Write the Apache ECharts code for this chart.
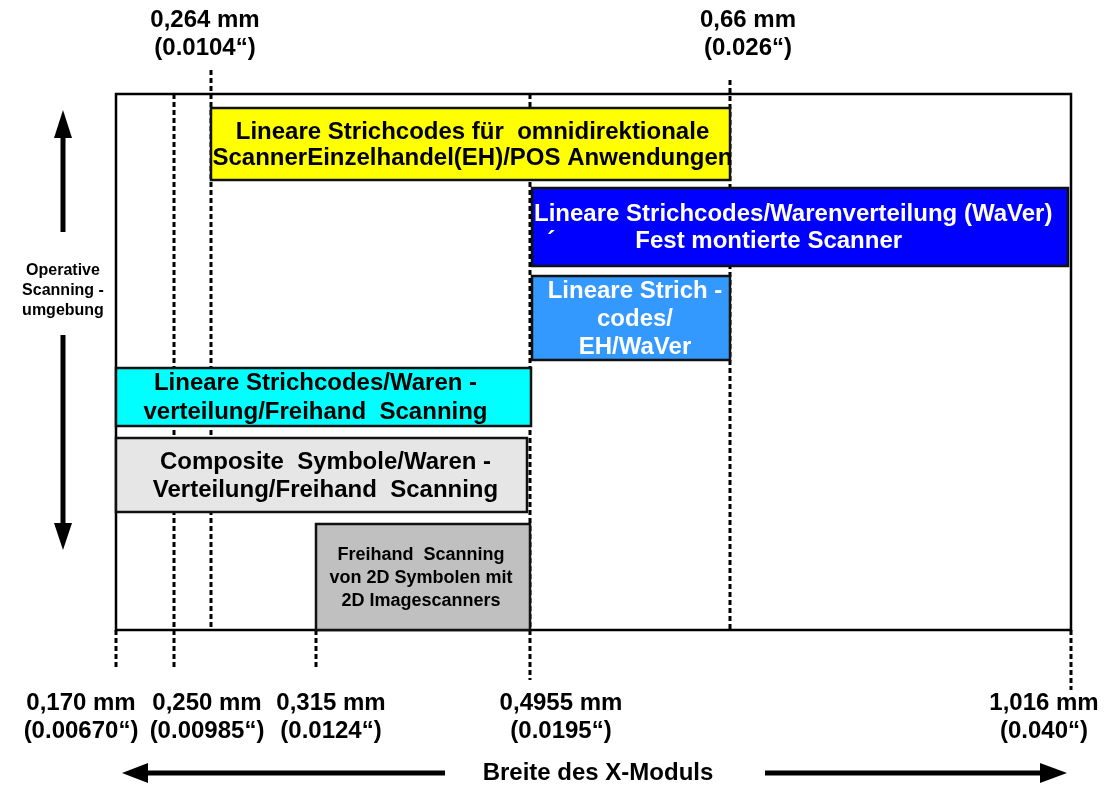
<!DOCTYPE html>
<html>
<head>
<meta charset="utf-8">
<script src="https://cdn.jsdelivr.net/npm/echarts@6/dist/echarts.min.js"></script>
<style>
  html, body { margin: 0; padding: 0; background: #fff; }
  #chart { width: 1105px; height: 785px; }
</style>
</head>
<body>
<div id="chart"></div>
<script>
  // Markierungen der X-Modul-Breite (schematische Position auf der Achse)
  var tickMm = ['0,170 mm', '0,250 mm', '0,264 mm', '0,315 mm', '0,4955 mm', '0,66 mm', '1,016 mm'];
  var tickInch = ['(0.00670\u201C)', '(0.00985\u201C)', '(0.0104\u201C)', '(0.0124\u201C)', '(0.0195\u201C)', '(0.026\u201C)', '(0.040\u201C)'];
  var tickPos = [0, 58, 95, 200, 414, 614, 955];

  // Anwendungsbereiche: von/bis auf der X-Achse, Zeile oben/unten
  var areaText = [
    'Lineare Strichcodes f\u00FCr  omnidirektionale\nScannerEinzelhandel(EH)/POS Anwendungen',
    'Lineare Strichcodes/Warenverteilung (WaVer)\n  \u00B4            Fest montierte Scanner',
    'Lineare Strich -\ncodes/\nEH/WaVer',
    'Lineare Strichcodes/Waren -\nverteilung/Freihand  Scanning',
    'Composite  Symbole/Waren -\nVerteilung/Freihand  Scanning',
    'Freihand  Scanning\nvon 2D Symbolen mit\n2D Imagescanners'
  ];
  var areaFrom = [95, 416, 416, 0, 0, 200];
  var areaTo = [614, 952, 614, 415, 411, 414];
  var areaTop = [14, 94, 182, 274, 344, 430];
  var areaBottom = [86, 172, 266, 332, 418, 536];

  // Darstellung
  var areaColor = ['#ffff00', '#0000ff', '#3399ff', '#00ffff', '#e6e6e6', '#c0c0c0'];
  var areaTextColor = ['#000', '#fff', '#fff', '#000', '#000', '#000'];
  var areaFont = [24, 24, 24, 24, 24, 18];
  var areaLineH = [26, 27, 28, 29, 28, 23];
  var areaAlign = ['center', 'left', 'center', 'center', 'center', 'center'];
  var areaShift = [2, 2, 4, -8, 4, -2];
  var guideFrom = [536, 0, -24, 536, 0, -14, 536];
  var guideTo = [574, 574, 536, 574, 586, 536, 596];
  var labelTop = [false, false, true, false, false, true, false];
  var labelShift = [-35, 33, -6, 15, 31, 18, -27];

  var FONT = "'Liberation Sans', Arial, sans-serif";

  var guideData = [];
  var labelData = [];
  for (var i = 0; i < tickPos.length; i++) {
    guideData.push([tickPos[i], guideFrom[i], guideTo[i]]);
    labelData.push([tickPos[i], labelTop[i] ? -60 : 623, i]);
  }
  var areaData = [];
  for (var j = 0; j < areaText.length; j++) {
    areaData.push([areaFrom[j], areaTo[j], areaTop[j], areaBottom[j], j]);
  }

  var myChart = echarts.init(document.getElementById('chart'));
  var option = {
    animation: false,
    backgroundColor: '#fff',
    grid: {
      left: 116, top: 94, width: 955, height: 536,
      show: true, borderColor: '#000', borderWidth: 2.5, backgroundColor: '#fff'
    },
    xAxis: { type: 'value', min: 0, max: 955, show: false },
    yAxis: { type: 'value', min: 0, max: 536, inverse: true, show: false },
    series: [
      {
        // gestrichelte Hilfslinien
        type: 'custom',
        z: 1,
        encode: { x: 0, y: [1, 2] },
        data: guideData,
        renderItem: function (params, api) {
          var a = api.coord([api.value(0), api.value(1)]);
          var b = api.coord([api.value(0), api.value(2)]);
          return {
            type: 'line',
            shape: { x1: a[0], y1: a[1], x2: b[0], y2: b[1] },
            style: { stroke: '#000', lineWidth: 3, lineDash: [5, 3] }
          };
        }
      },
      {
        type: 'custom',
        z: 2,
        encode: { x: [0, 1], y: [2, 3] },
        data: areaData,
        renderItem: function (params, api) {
          var k = api.value(4);
          var p0 = api.coord([api.value(0), api.value(2)]);
          var p1 = api.coord([api.value(1), api.value(3)]);
          var tx = areaAlign[k] === 'left' ? p0[0] + areaShift[k] : (p0[0] + p1[0]) / 2 + areaShift[k];
          return {
            type: 'group',
            children: [
              {
                type: 'rect',
                shape: { x: p0[0], y: p0[1], width: p1[0] - p0[0], height: p1[1] - p0[1] },
                style: { fill: areaColor[k], stroke: '#111', lineWidth: 2.5 }
              },
              {
                type: 'text',
                style: {
                  x: tx, y: (p0[1] + p1[1]) / 2 + 1,
                  text: areaText[k],
                  fill: areaTextColor[k],
                  fontSize: areaFont[k], fontWeight: 'bold', fontFamily: FONT,
                  lineHeight: areaLineH[k],
                  align: areaAlign[k], verticalAlign: 'middle'
                }
              }
            ]
          };
        }
      },
      {
        // Beschriftung der Markierungen
        type: 'custom',
        z: 3,
        encode: { x: 0, y: 1 },
        data: labelData,
        renderItem: function (params, api) {
          var k = api.value(2);
          var p = api.coord([api.value(0), api.value(1)]);
          return {
            type: 'text',
            style: {
              x: p[0] + labelShift[k], y: p[1],
              text: tickMm[k] + '\n' + tickInch[k],
              fill: '#000',
              fontSize: 24, fontWeight: 'bold', fontFamily: FONT,
              lineHeight: 28,
              align: 'center', verticalAlign: 'middle'
            }
          };
        }
      }
    ],
    graphic: [
      {
        type: 'text',
        style: {
          x: 63, y: 291, text: 'Operative\nScanning -\numgebung',
          fill: '#000', fontSize: 16, fontWeight: 'bold', fontFamily: FONT,
          lineHeight: 20, align: 'center', verticalAlign: 'middle'
        }
      },
      { type: 'line', shape: { x1: 63, y1: 136, x2: 63, y2: 232 }, style: { stroke: '#000', lineWidth: 5 } },
      { type: 'polygon', shape: { points: [[63, 110], [54, 138], [72, 138]] }, style: { fill: '#000' } },
      { type: 'line', shape: { x1: 63, y1: 335, x2: 63, y2: 525 }, style: { stroke: '#000', lineWidth: 5 } },
      { type: 'polygon', shape: { points: [[54, 523], [72, 523], [63, 550]] }, style: { fill: '#000' } },
      {
        type: 'text',
        style: {
          x: 598, y: 773, text: 'Breite des X-Moduls',
          fill: '#000', fontSize: 24, fontWeight: 'bold', fontFamily: FONT,
          align: 'center', verticalAlign: 'middle'
        }
      },
      { type: 'line', shape: { x1: 146, y1: 773, x2: 445, y2: 773 }, style: { stroke: '#000', lineWidth: 5 } },
      { type: 'polygon', shape: { points: [[122, 773], [148, 763], [148, 783]] }, style: { fill: '#000' } },
      { type: 'line', shape: { x1: 765, y1: 773, x2: 1042, y2: 773 }, style: { stroke: '#000', lineWidth: 5 } },
      { type: 'polygon', shape: { points: [[1067, 773], [1040, 763], [1040, 783]] }, style: { fill: '#000' } }
    ]
  };
  myChart.setOption(option);
</script>
</body>
</html>
